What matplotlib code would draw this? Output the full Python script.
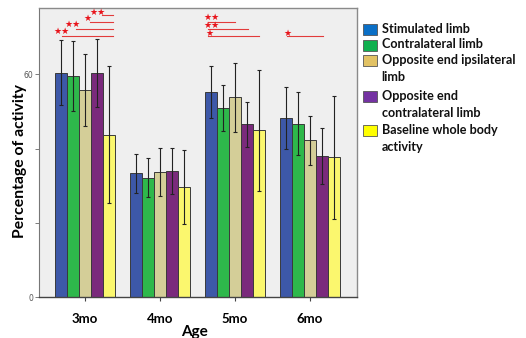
import matplotlib
matplotlib.use("Agg")
import matplotlib.pyplot as plt
from matplotlib.patches import Rectangle
import numpy as np

ages = ["3mo", "4mo", "5mo", "6mo"]
series = ["Stimulated limb", "Contralateral limb", "Opposite end ipsilateral\nlimb",
          "Opposite end\ncontralateral limb", "Baseline whole body\nactivity"]
stimulated = [60.5, 33.4, 55.3, 48.2]
contralateral = [59.6, 32.2, 50.9, 46.7]
opp_ipsi = [55.9, 33.7, 53.8, 42.3]
opp_contra = [60.4, 33.9, 46.6, 38.1]
baseline = [43.8, 29.7, 45.0, 37.7]
err_stimulated = [8.8, 5.2, 7.0, 8.4]
err_contralateral = [9.4, 5.2, 6.2, 8.5]
err_opp_ipsi = [9.7, 6.5, 9.2, 6.6]
err_opp_contra = [9.2, 6.2, 6.1, 7.5]
err_baseline = [18.4, 10.0, 16.3, 16.5]
yticks = [0, 20, 40, 60]
ytick_labels = ["0", "", "", "60"]

bar_colors = ["#3d58a8", "#2eb84b", "#d4ce98", "#7a2a7c", "#fbf76e"]
legend_colors = ["#0a6fc6", "#10b04f", "#e2c264", "#7432a2", "#ffff00"]

# significance annotations (offsets relative to the group centre)
sig_group = [0, 0, 0, 0, 2, 2, 2, 3]
sig_stars = ["★★", "★★", "★", "★★", "★", "★★", "★★", "★"]
sig_star_dx = [-0.307, -0.164, 0.031, 0.173, -0.343, -0.307, -0.307, -0.303]
sig_line_x0 = [-0.311, -0.12, 0.067, 0.223, -0.356, -0.356, -0.356, -0.311]
sig_line_x1 = [0.377, 0.377, 0.377, 0.377, 0.324, 0.177, 0.0, 0.169]
sig_y = [70.4, 72.2, 74.1, 76.0, 70.4, 72.1, 74.1, 70.4]
sig_star_y = [71.6, 73.5, 75.0, 76.6, 70.9, 73.2, 75.3, 70.9]

fig = plt.figure(figsize=(5.26, 3.38), dpi=100)
ax = fig.add_axes([0.0736, 0.1204, 0.6044, 0.8574])
ax.set_facecolor("#efefef")

values = [stimulated, contralateral, opp_ipsi, opp_contra, baseline]
errs = [err_stimulated, err_contralateral, err_opp_ipsi, err_opp_contra, err_baseline]
x = np.arange(len(ages))
w = 0.16
for i, (v, e, c) in enumerate(zip(values, errs, bar_colors)):
    ax.bar(x + (i - 2) * w, v, width=w, color=c, edgecolor="#3a3a3a", linewidth=0.7, zorder=2)
    ax.errorbar(x + (i - 2) * w, v, yerr=e, fmt="none", ecolor="#222222",
                elinewidth=0.8, capsize=1.6, capthick=0.8, zorder=3)

for g, s, sdx, lx0, lx1, yy, sy in zip(sig_group, sig_stars, sig_star_dx, sig_line_x0,
                                        sig_line_x1, sig_y, sig_star_y):
    ax.plot([g + lx0, g + lx1], [yy, yy], color="#e23b3b", lw=0.8, zorder=4)
    ax.text(g + sdx, sy, s, color="#e8141b", fontsize=6.5, ha="center", va="center",
            family="DejaVu Sans", zorder=5)

ax.set_xlim(-0.617, 3.62)
ax.set_ylim(0, 78)
ax.set_xticks(x)
ax.set_xticklabels(ages, fontsize=9.5, fontweight="bold", family="Lato")
ax.set_yticks(yticks)
ax.set_yticklabels(ytick_labels, fontsize=5.5, color="#555555")
ax.tick_params(axis="x", length=3, width=0.8, color="#444444", pad=8)
ax.tick_params(axis="y", length=3, width=0.6, color="#666666", pad=1)
for side in ["top", "right"]:
    ax.spines[side].set_color("#8a8a8a")
    ax.spines[side].set_linewidth(1.0)
ax.spines["left"].set_color("#777777")
ax.spines["bottom"].set_color("#444444")
ax.spines["bottom"].set_linewidth(1.0)

ax.set_ylabel("Percentage of activity", fontsize=11.3, fontweight="bold", family="Lato")
ax.yaxis.set_label_coords(-0.036, 0.47)
ax.set_xlabel("Age", fontsize=11, fontweight="bold", family="Lato")
ax.xaxis.set_label_coords(0.49, -0.095)

# manual legend
row_y = [29.3, 45.0, 60.7, 96.7, 130.7]
H = 338.0
for lab, col, ry in zip(series, legend_colors, row_y):
    fig.patches.append(Rectangle((362.5 / 526, 1 - (ry + 5.5) / H), 14 / 526, 11 / H,
                                 transform=fig.transFigure, facecolor=col,
                                 edgecolor="#555555", linewidth=0.6))
    fig.text(381.5 / 526, 1 - (ry - 6.5) / H, lab, fontsize=9.1, fontweight="bold",
             family="Lato", va="top", ha="left", linespacing=1.45, color="#111111")

fig.savefig("out.png", dpi=100)
